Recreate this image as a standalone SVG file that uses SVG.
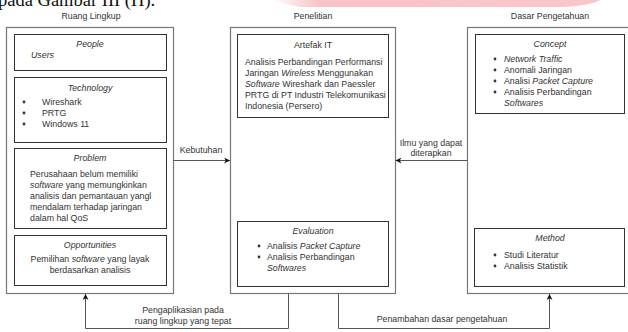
<svg xmlns="http://www.w3.org/2000/svg" width="628" height="332" viewBox="0 0 628 332">
<defs>
<linearGradient id="pink" x1="0" x2="1" y1="0" y2="0">
<stop offset="0" stop-color="#f8c4c8" stop-opacity="0"/>
<stop offset="0.15" stop-color="#f8c4c8"/>
<stop offset="1" stop-color="#f9c6ca"/>
</linearGradient>
<marker id="arr" viewBox="0 0 10 10" refX="10" refY="5" markerWidth="6" markerHeight="6" markerUnits="userSpaceOnUse" orient="auto">
<path d="M0,0 L10,5 L0,10 L3,5 Z" fill="#111"/>
</marker>
</defs>
<style>
text{font-family:"Liberation Sans",Arial,sans-serif;font-size:8.8px;fill:#333}
.i{font-style:italic}
.c{text-anchor:middle}
.outer{fill:#fff;stroke:#777;stroke-width:1.2}
.inner{fill:#fff;stroke:#333;stroke-width:1}
.shadow{fill:none;stroke:#ccc;stroke-width:1}
.conn{fill:none;stroke:#555;stroke-width:1}
.b{fill:#333}
</style>
<rect width="628" height="332" fill="#fff"/>
<path d="M270,0 L600,0 Q590,6 560,7 L300,7 Z" fill="url(#pink)"/>
<text x="-2" y="6" style="font-family:'Liberation Serif',serif;font-size:18.5px;fill:#111">pada Gambar III (H).</text>

<text class="c" x="91" y="19">Ruang Lingkup</text>
<text class="c" x="313" y="19">Penelitian</text>
<text class="c" x="550" y="19">Dasar Pengetahuan</text>

<g id="ruang-lingkup">
<rect class="outer" x="6.5" y="27.5" width="167" height="266"/>
</g>
<g id="people">
<rect class="inner" x="14.5" y="34.5" width="152" height="36"/>
<text class="c i" x="90" y="47">People</text>
<text class="i" x="31" y="58">Users</text>
</g>
<g id="technology">
<rect class="inner" x="14.5" y="77.5" width="152" height="65"/>
<text class="c i" x="90" y="91">Technology</text>
<circle class="b" cx="24" cy="102" r="1.4"/><text x="42" y="105">Wireshark</text>
<circle class="b" cx="24" cy="113" r="1.4"/><text x="42" y="116">PRTG</text>
<circle class="b" cx="24" cy="124" r="1.4"/><text x="42" y="127">Windows 11</text>
</g>
<g id="problem">
<rect class="inner" x="14.5" y="148.5" width="152" height="80"/>
<text class="c i" x="90" y="161">Problem</text>
<text x="30" y="177">Perusahaan belum memiliki</text>
<text x="30" y="188"><tspan class="i">software</tspan> yang memungkinkan</text>
<text x="30" y="199">analisis dan pemantauan yangl</text>
<text x="30" y="210">mendalam terhadap jaringan</text>
<text x="30" y="221">dalam hal QoS</text>
</g>
<g id="opportunities">
<rect class="inner" x="14.5" y="235.5" width="152" height="50"/>
<text class="c i" x="90" y="248">Opportunities</text>
<text class="c" x="90" y="262">Pemilihan <tspan class="i">software</tspan> yang layak</text>
<text class="c" x="90" y="273">berdasarkan analisis</text>
</g>

<g id="penelitian">
<rect class="outer" x="230.5" y="27.5" width="165" height="266"/>
</g>
<g id="artefak-it">
<rect class="inner" x="237.5" y="34.5" width="151" height="83"/>
<text class="c" x="313" y="48">Artefak IT</text>
<text x="245" y="65">Analisis Perbandingan Performansi</text>
<text x="245" y="76">Jaringan <tspan class="i">Wireless</tspan> Menggunakan</text>
<text x="245" y="87"><tspan class="i">Software</tspan> Wireshark dan Paessler</text>
<text x="245" y="98">PRTG di PT Industri Telekomunikasi</text>
<text x="245" y="109">Indonesia (Persero)</text>
</g>
<g id="evaluation">
<rect class="inner" x="237.5" y="221.5" width="151" height="65"/>
<text class="c i" x="313" y="234">Evaluation</text>
<circle class="b" cx="259" cy="246" r="1.4"/><text x="267" y="249">Analisis <tspan class="i">Packet Capture</tspan></text>
<circle class="b" cx="259" cy="257" r="1.4"/><text x="267" y="260">Analisis Perbandingan</text>
<text class="i" x="267" y="271">Softwares</text>
</g>

<g id="dasar-pengetahuan">
<rect class="outer" x="467.5" y="27.5" width="170" height="266"/>
</g>
<g id="concept">
<rect class="inner" x="475.5" y="34.5" width="149" height="79"/>
<text class="c i" x="550" y="47">Concept</text>
<circle class="b" cx="495" cy="59" r="1.4"/><text class="i" x="504" y="62">Network Traffic</text>
<circle class="b" cx="495" cy="70" r="1.4"/><text x="504" y="73">Anomali Jaringan</text>
<circle class="b" cx="495" cy="81" r="1.4"/><text x="504" y="84">Analisi <tspan class="i">Packet Capture</tspan></text>
<circle class="b" cx="495" cy="92" r="1.4"/><text x="504" y="95">Analisis Perbandingan</text>
<text class="i" x="504" y="106">Softwares</text>
</g>
<g id="method">
<rect class="inner" x="474.5" y="228.5" width="150" height="58"/>
<text class="c i" x="550" y="241">Method</text>
<circle class="b" cx="495" cy="255" r="1.4"/><text x="504" y="258">Studi Literatur</text>
<circle class="b" cx="495" cy="266" r="1.4"/><text x="504" y="269">Analisis Statistik</text>
</g>

<g id="connectors">
<path class="conn" d="M173.5,160.5 H230" marker-end="url(#arr)"/>
<path class="conn" d="M467.5,160.5 H395.5" marker-end="url(#arr)"/>
<path class="conn" d="M288.5,293.5 V328.5 H85.5 V294" marker-end="url(#arr)"/>
<path class="conn" d="M338.5,293.5 V328.5 H549.5 V294" marker-end="url(#arr)"/>
<text class="c" x="201" y="153">Kebutuhan</text>
<text class="c" x="431" y="146">Ilmu yang dapat</text>
<text class="c" x="431" y="156">diterapkan</text>
<text class="c" x="183" y="313">Pengaplikasian pada</text>
<text class="c" x="183" y="324">ruang lingkup yang tepat</text>
<text class="c" x="442" y="322">Penambahan dasar pengetahuan</text>
</g>
</svg>
